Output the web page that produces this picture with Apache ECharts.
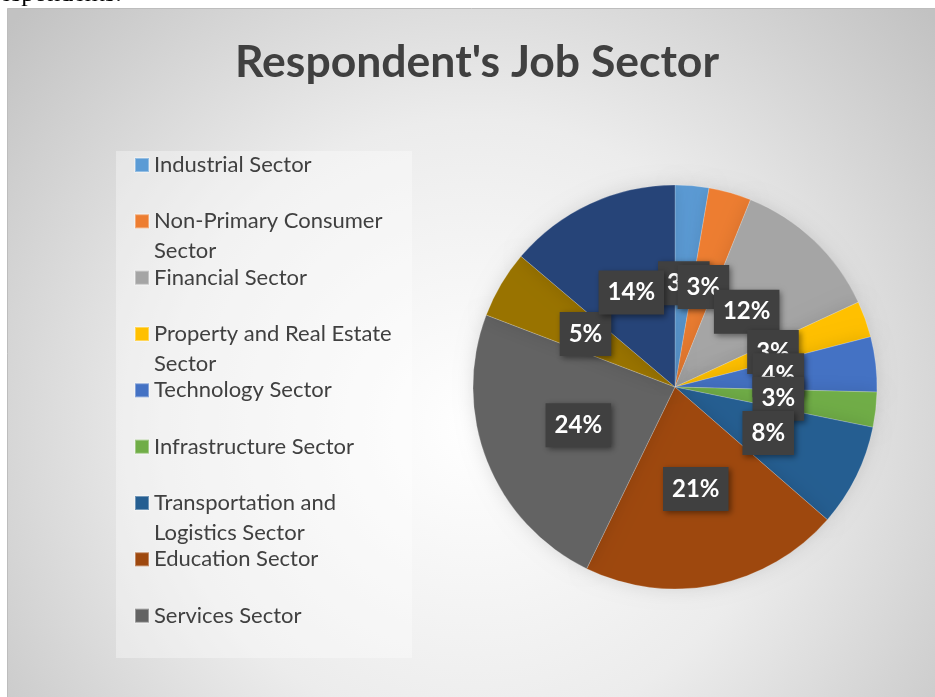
<!DOCTYPE html>
<html>
<head>
<meta charset="utf-8">
<script src="https://cdn.jsdelivr.net/npm/echarts@6/dist/echarts.min.js"></script>
<style>
html,body{margin:0;padding:0;background:#fff;}
#chart{width:935px;height:697px;}
</style>
</head>
<body>
<div id="chart"></div>
<script>
// ---- data ----
const categories = [
  'Industrial Sector',
  'Non-Primary Consumer Sector',
  'Financial Sector',
  'Property and Real Estate Sector',
  'Technology Sector',
  'Infrastructure Sector',
  'Transportation and Logistics Sector',
  'Education Sector',
  'Services Sector',
  'Health Sector',
  'Other Sector'
];
const legendLines = [
  ['Industrial Sector'],
  ['Non-Primary Consumer', 'Sector'],
  ['Financial Sector'],
  ['Property and Real Estate', 'Sector'],
  ['Technology Sector'],
  ['Infrastructure Sector'],
  ['Transportation and', 'Logistics Sector'],
  ['Education Sector'],
  ['Services Sector']
];
const values = [2.7, 3.4, 12.0, 2.9, 4.4, 2.8, 8.2, 20.8, 23.6, 5.4, 13.8];
const labelTexts = ['3%', '3%', '12%', '3%', '4%', '3%', '8%', '21%', '24%', '5%', '14%'];
const colors = ['#5B9BD5', '#ED7D31', '#A5A5A5', '#FFC000', '#4472C4', '#70AD47',
                '#255E91', '#9E480E', '#636363', '#997300', '#264478'];

const FONT = 'Lato';
const chart = echarts.init(document.getElementById('chart'), null, {renderer: 'canvas'});

const LINE_H = 29.5;
const legendTop0 = 165;   // icon centre of first item
const legendStep = 56.33;
const legends = legendLines.map((lines, i) => {
  const cy = legendTop0 + i * legendStep;
  const nLines = lines.length === 1 ? 1 : 3;
  return {
    show: true,
    orient: 'vertical',
    left: 134,
    top: cy - nLines * LINE_H / 2,
    padding: 0,
    itemWidth: 14,
    itemHeight: 14,
    icon: 'rect',
    selectedMode: false,
    data: [categories[i]],
    formatter: () => lines.length === 1 ? lines[0] : ' \n' + lines.join('\n'),
    textStyle: {
      fontFamily: FONT,
      fontSize: 22,
      color: '#404040',
      lineHeight: LINE_H
    }
  };
});

const option = {
  backgroundColor: '#ffffff',
  color: colors,
  animation: false,
  title: {
    text: "Respondent's Job Sector",
    left: 472,
    top: 35,
    textAlign: 'center',
    textStyle: {
      fontFamily: FONT,
      fontWeight: 'bold',
      fontSize: 44.5,
      color: '#404040'
    }
  },
  graphic: [
    {
      type: 'text', z: -10, left: -9, top: -19,
      style: {text: 'respondents.', font: '26px "Liberation Serif"', fill: '#000'}
    },
    {
      type: 'rect', z: -5,
      shape: {x: 7.5, y: 8.5, width: 935, height: 697},
      style: {
        fill: {
          type: 'radial', x: 0.5, y: 0.6, r: 0.88,
          colorStops: [
            {offset: 0, color: '#ffffff'},
            {offset: 0.5, color: '#ececec'},
            {offset: 1, color: '#c2c2c2'}
          ]
        },
        stroke: '#bdbdbd', lineWidth: 1
      }
    },
    {
      type: 'rect', z: -4,
      shape: {x: 116, y: 151, width: 296, height: 507},
      style: {fill: 'rgba(255,255,255,0.35)'}
    }
  ],
  legend: legends,
  series: [{
    type: 'pie',
    center: [675, 387],
    radius: [0, 202],
    startAngle: 90,
    clockwise: true,
    avoidLabelOverlap: false,
    labelLine: {show: false},
    itemStyle: {
      borderColor: 'rgba(255,255,255,0.35)',
      borderWidth: 0.6,
      shadowBlur: 18,
      shadowColor: 'rgba(0,0,0,0.12)'
    },
    label: {
      show: true,
      position: 'inside',
      formatter: p => labelTexts[p.dataIndex],
      fontFamily: FONT,
      fontWeight: 'bold',
      fontSize: 24,
      color: '#ffffff',
      backgroundColor: '#404040',
      padding: [11, 9, 9, 9],
      shadowBlur: 6,
      shadowColor: 'rgba(0,0,0,0.45)',
      shadowOffsetX: 2,
      shadowOffsetY: 2
    },
    labelLayout: {hideOverlap: false},
    emphasis: {disabled: true},
    data: categories.map((c, i) => ({name: c, value: values[i]}))
  }]
};
chart.setOption(option);
</script>
</body>
</html>
